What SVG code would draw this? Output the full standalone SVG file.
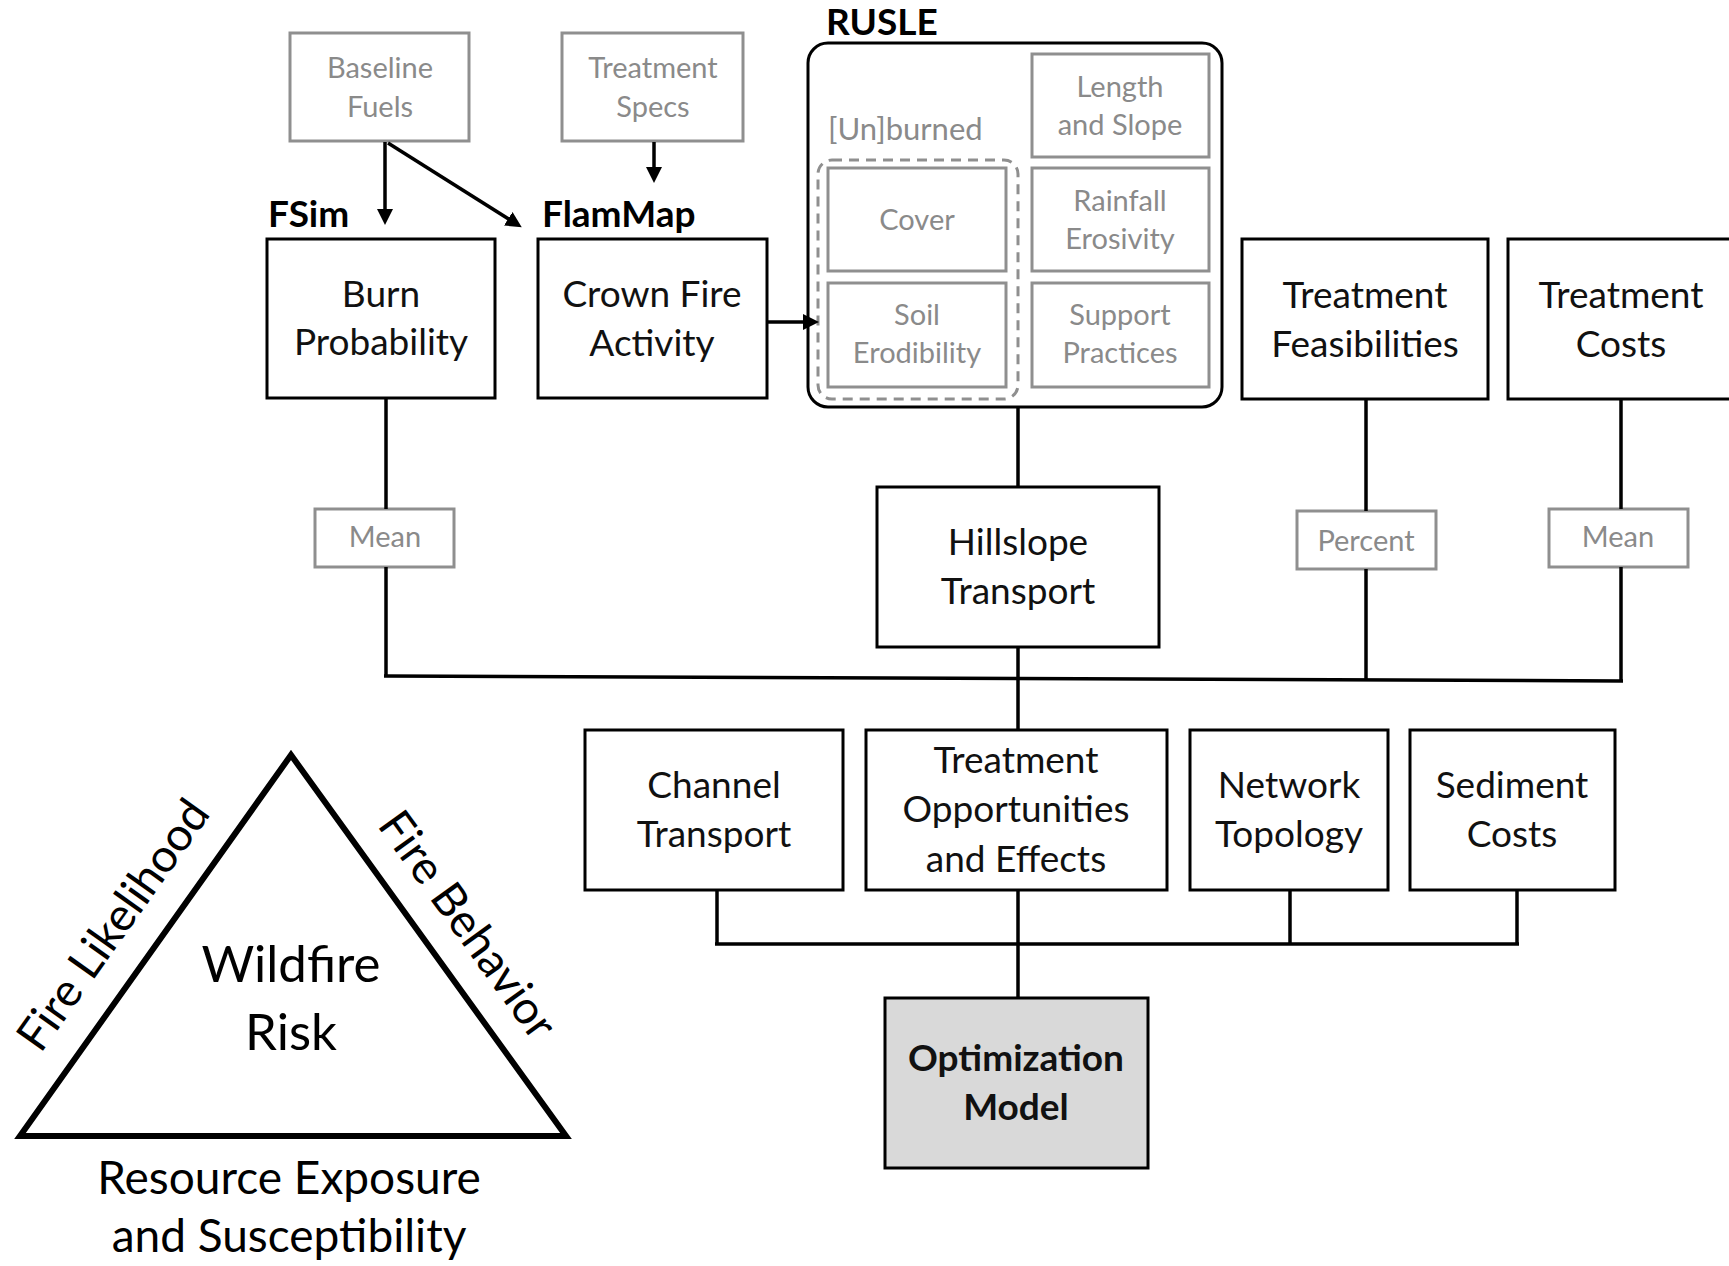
<svg xmlns="http://www.w3.org/2000/svg" width="1729" height="1266" viewBox="0 0 1729 1266">
<defs>
<style>
.box{fill:#fff;stroke:#000;stroke-width:3}
.gbox{fill:#fff;stroke:#8f8f8f;stroke-width:3}
.t{font-family:Lato,"Liberation Sans",sans-serif;font-size:37px;fill:#111;text-anchor:middle}
.g{font-family:Lato,"Liberation Sans",sans-serif;font-size:29px;fill:#8a8a8a;text-anchor:middle}
.lbl{font-family:Lato,"Liberation Sans",sans-serif;font-size:37px;font-weight:bold;fill:#000}
.big{font-family:Lato,"Liberation Sans",sans-serif;font-size:50px;fill:#000;text-anchor:middle}
.conn{stroke:#000;stroke-width:3.5;fill:none}
</style>
<marker id="ah" viewBox="0 0 16 16" markerWidth="16" markerHeight="16" refX="8" refY="8" orient="auto" markerUnits="userSpaceOnUse">
<path d="M0,0 L16,8 L0,16 z" fill="#000"/>
</marker>
</defs>
<rect width="1729" height="1266" fill="#fff"/>

<g id="baseline-fuels">
<rect class="gbox" x="290" y="33" width="179" height="108"/>
<text class="g" x="380" y="78">Baseline</text>
<text class="g" x="380" y="117">Fuels</text>
</g>
<g id="treatment-specs">
<rect class="gbox" x="562" y="33" width="181" height="108"/>
<text class="g" x="653" y="78">Treatment</text>
<text class="g" x="653" y="117">Specs</text>
</g>

<g id="burn-probability">
<text class="lbl" x="268" y="227">FSim</text>
<rect class="box" x="267" y="239" width="228" height="159"/>
<text class="t" x="381" y="307">Burn</text>
<text class="t" x="381" y="355">Probability</text>
</g>
<g id="crown-fire">
<text class="lbl" x="542" y="227">FlamMap</text>
<rect class="box" x="538" y="239" width="229" height="159"/>
<text class="t" x="652" y="307">Crown Fire</text>
<text class="t" x="652" y="356">Activity</text>
</g>

<g id="rusle">
<text class="lbl" x="826" y="35">RUSLE</text>
<rect class="box" x="808" y="43" width="414" height="364" rx="20"/>
<text class="g" x="828" y="140" style="text-anchor:start;font-size:31px">[Un]burned</text>
<rect x="818" y="160" width="200" height="239" rx="14" fill="none" stroke="#8f8f8f" stroke-width="3" stroke-dasharray="10 7"/>
<g id="cover">
<rect class="gbox" x="828" y="168" width="178" height="103"/>
<text class="g" x="917" y="230">Cover</text>
</g>
<g id="soil-erodibility">
<rect class="gbox" x="828" y="283" width="178" height="104"/>
<text class="g" x="917" y="325">Soil</text>
<text class="g" x="917" y="363">Erodibility</text>
</g>
<g id="length-slope">
<rect class="gbox" x="1032" y="54" width="177" height="103"/>
<text class="g" x="1120" y="97">Length</text>
<text class="g" x="1120" y="135">and Slope</text>
</g>
<g id="rainfall-erosivity">
<rect class="gbox" x="1032" y="168" width="177" height="103"/>
<text class="g" x="1120" y="211">Rainfall</text>
<text class="g" x="1120" y="249">Erosivity</text>
</g>
<g id="support-practices">
<rect class="gbox" x="1032" y="283" width="177" height="104"/>
<text class="g" x="1120" y="325">Support</text>
<text class="g" x="1120" y="363">Practices</text>
</g>
</g>

<g id="treatment-feasibilities">
<rect class="box" x="1242" y="239" width="246" height="160"/>
<text class="t" x="1365" y="308">Treatment</text>
<text class="t" x="1365" y="357">Feasibilities</text>
</g>
<g id="treatment-costs">
<rect class="box" x="1508" y="239" width="260" height="160"/>
<text class="t" x="1621" y="308">Treatment</text>
<text class="t" x="1621" y="357">Costs</text>
</g>

<g id="mean-left">
<rect class="gbox" x="315" y="509" width="139" height="58"/>
<text class="g" x="385" y="547">Mean</text>
</g>
<g id="percent">
<rect class="gbox" x="1297" y="511" width="139" height="58"/>
<text class="g" x="1366" y="551">Percent</text>
</g>
<g id="mean-right">
<rect class="gbox" x="1549" y="509" width="139" height="58"/>
<text class="g" x="1618" y="547">Mean</text>
</g>

<g id="hillslope-transport">
<rect class="box" x="877" y="487" width="282" height="160"/>
<text class="t" x="1018" y="555">Hillslope</text>
<text class="t" x="1018" y="604">Transport</text>
</g>

<g id="channel-transport">
<rect class="box" x="585" y="730" width="258" height="160"/>
<text class="t" x="714" y="798">Channel</text>
<text class="t" x="714" y="847">Transport</text>
</g>
<g id="treatment-opportunities">
<rect class="box" x="866" y="730" width="301" height="160"/>
<text class="t" x="1016" y="773">Treatment</text>
<text class="t" x="1016" y="822">Opportunities</text>
<text class="t" x="1016" y="872">and Effects</text>
</g>
<g id="network-topology">
<rect class="box" x="1190" y="730" width="198" height="160"/>
<text class="t" x="1289" y="798">Network</text>
<text class="t" x="1289" y="847">Topology</text>
</g>
<g id="sediment-costs">
<rect class="box" x="1410" y="730" width="205" height="160"/>
<text class="t" x="1512" y="798">Sediment</text>
<text class="t" x="1512" y="847">Costs</text>
</g>

<g id="optimization-model">
<rect x="885" y="998" width="263" height="170" fill="#d9d9d9" stroke="#000" stroke-width="3"/>
<text class="t" x="1016" y="1071" style="font-weight:bold">Optimization</text>
<text class="t" x="1016" y="1120" style="font-weight:bold">Model</text>
</g>

<g id="wildfire-triangle">
<polygon points="291,755 20,1136 566,1136" fill="none" stroke="#000" stroke-width="6"/>
<text class="big" x="291" y="982" style="font-size:51px">Wildfire</text>
<text class="big" x="291" y="1050" style="font-size:51px">Risk</text>
<text class="big" x="126" y="934" style="font-size:46px" transform="rotate(-54.6 126 934)">Fire Likelihood</text>
<text class="big" x="455" y="934" style="font-size:46px" transform="rotate(54.2 455 934)">Fire Behavior</text>
<text class="big" x="289" y="1194" style="font-size:46px">Resource Exposure</text>
<text class="big" x="289" y="1252" style="font-size:46px">and Susceptibility</text>
</g>

<g id="connectors">
<line class="conn" x1="385" y1="142" x2="385" y2="217" marker-end="url(#ah)"/>
<line class="conn" x1="388" y1="143" x2="515" y2="223" marker-end="url(#ah)"/>
<line class="conn" x1="654" y1="142" x2="654" y2="175" marker-end="url(#ah)"/>
<line class="conn" x1="768" y1="322" x2="811" y2="322" marker-end="url(#ah)"/>
<line class="conn" x1="386" y1="398" x2="386" y2="509"/>
<line class="conn" x1="386" y1="567" x2="386" y2="676"/>
<line class="conn" x1="1366" y1="399" x2="1366" y2="511"/>
<line class="conn" x1="1366" y1="569" x2="1366" y2="680"/>
<line class="conn" x1="1621" y1="399" x2="1621" y2="509"/>
<line class="conn" x1="1621" y1="567" x2="1621" y2="682"/>
<line class="conn" x1="384" y1="676" x2="1623" y2="681"/>
<line class="conn" x1="1018" y1="407" x2="1018" y2="487"/>
<line class="conn" x1="1018" y1="647" x2="1018" y2="730"/>
<line class="conn" x1="717" y1="890" x2="717" y2="944"/>
<line class="conn" x1="1018" y1="890" x2="1018" y2="998"/>
<line class="conn" x1="1290" y1="890" x2="1290" y2="944"/>
<line class="conn" x1="1517" y1="890" x2="1517" y2="944"/>
<line class="conn" x1="715" y1="944" x2="1519" y2="944"/>
</g>
</svg>
